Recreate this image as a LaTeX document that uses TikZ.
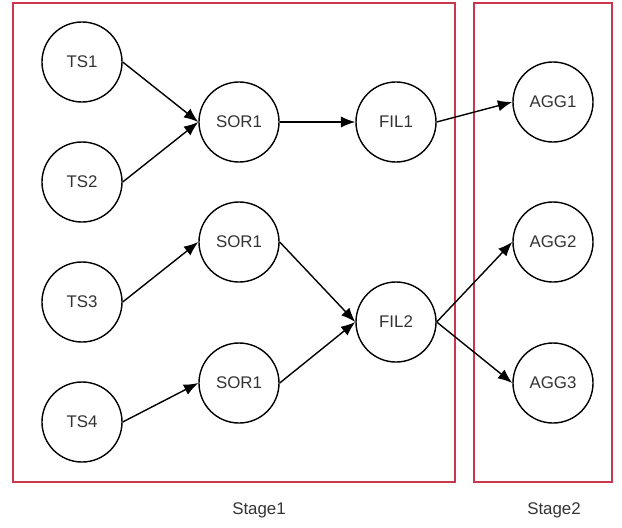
\documentclass[tikz,border=0pt]{standalone}
\usepackage{fontspec}
\setmainfont{Liberation Sans}
\usepackage{tikz}
\usetikzlibrary{positioning}
\usetikzlibrary{arrows.meta}
\definecolor{stagered}{RGB}{200,55,75}

\begin{document}
\begin{tikzpicture}
                [x=0.025cm, y=-0.025cm,
                 op/.style = {minimum size = 2cm, draw, circle, line width=1pt, inner sep=0pt, text=black!80, font=\fontsize{12}{14}\selectfont},
                 stage/.style = {draw=stagered, line width=1.3pt},
                 flow/.style = {-{Latex[length=0.36cm,width=0.28cm]}, line width=1pt}]
                \useasboundingbox (0,0) rectangle (622,527);

                % stage boxes
                \draw[stage] (13,3) rectangle (455,482);
                \draw[stage] (474,3) rectangle (612,482);
                \node[text=black!80, font=\fontsize{12}{14}\selectfont] (st1) at (259,510) {Stage1};
                \node[text=black!80, font=\fontsize{12}{14}\selectfont] (st2) at (554,510) {Stage2};

                \node[op] (ts1) at (82,62) {TS1};
                \node[op] (ts2) at (82,182) {TS2};
                \node[op] (ts3) at (82,302) {TS3};
                \node[op] (ts4) at (82,422) {TS4};
                \node[op] (sor1) at (239,122) {SOR1};
                \node[op] (sor2) at (239,242) {SOR1};
                \node[op] (sor3) at (239,383) {SOR1};
                \node[op] (fil1) at (396,122) {FIL1};
                \node[op] (fil2) at (396,322) {FIL2};
                \node[op] (agg1) at (553,102) {AGG1};
                \node[op] (agg2) at (553,242) {AGG2};
                \node[op] (agg3) at (553,383) {AGG3};

                \draw[flow] (ts1.east) to (sor1.west);
                \draw[flow] (ts2.east) to (sor1.west);
                \draw[flow] (ts3.east) to (sor2.west);
                \draw[flow] (ts4.east) to (sor3.west);
                \draw[flow] (sor1.east) to (fil1.west);
                \draw[flow] (sor2.east) to (fil2.west);
                \draw[flow] (sor3.east) to (fil2.west);
                \draw[flow] (fil1.east) to (agg1.west);
                \draw[flow] (fil2.east) to (agg2.west);
                \draw[flow] (fil2.east) to (agg3.west);
            \end{tikzpicture}
\end{document}
